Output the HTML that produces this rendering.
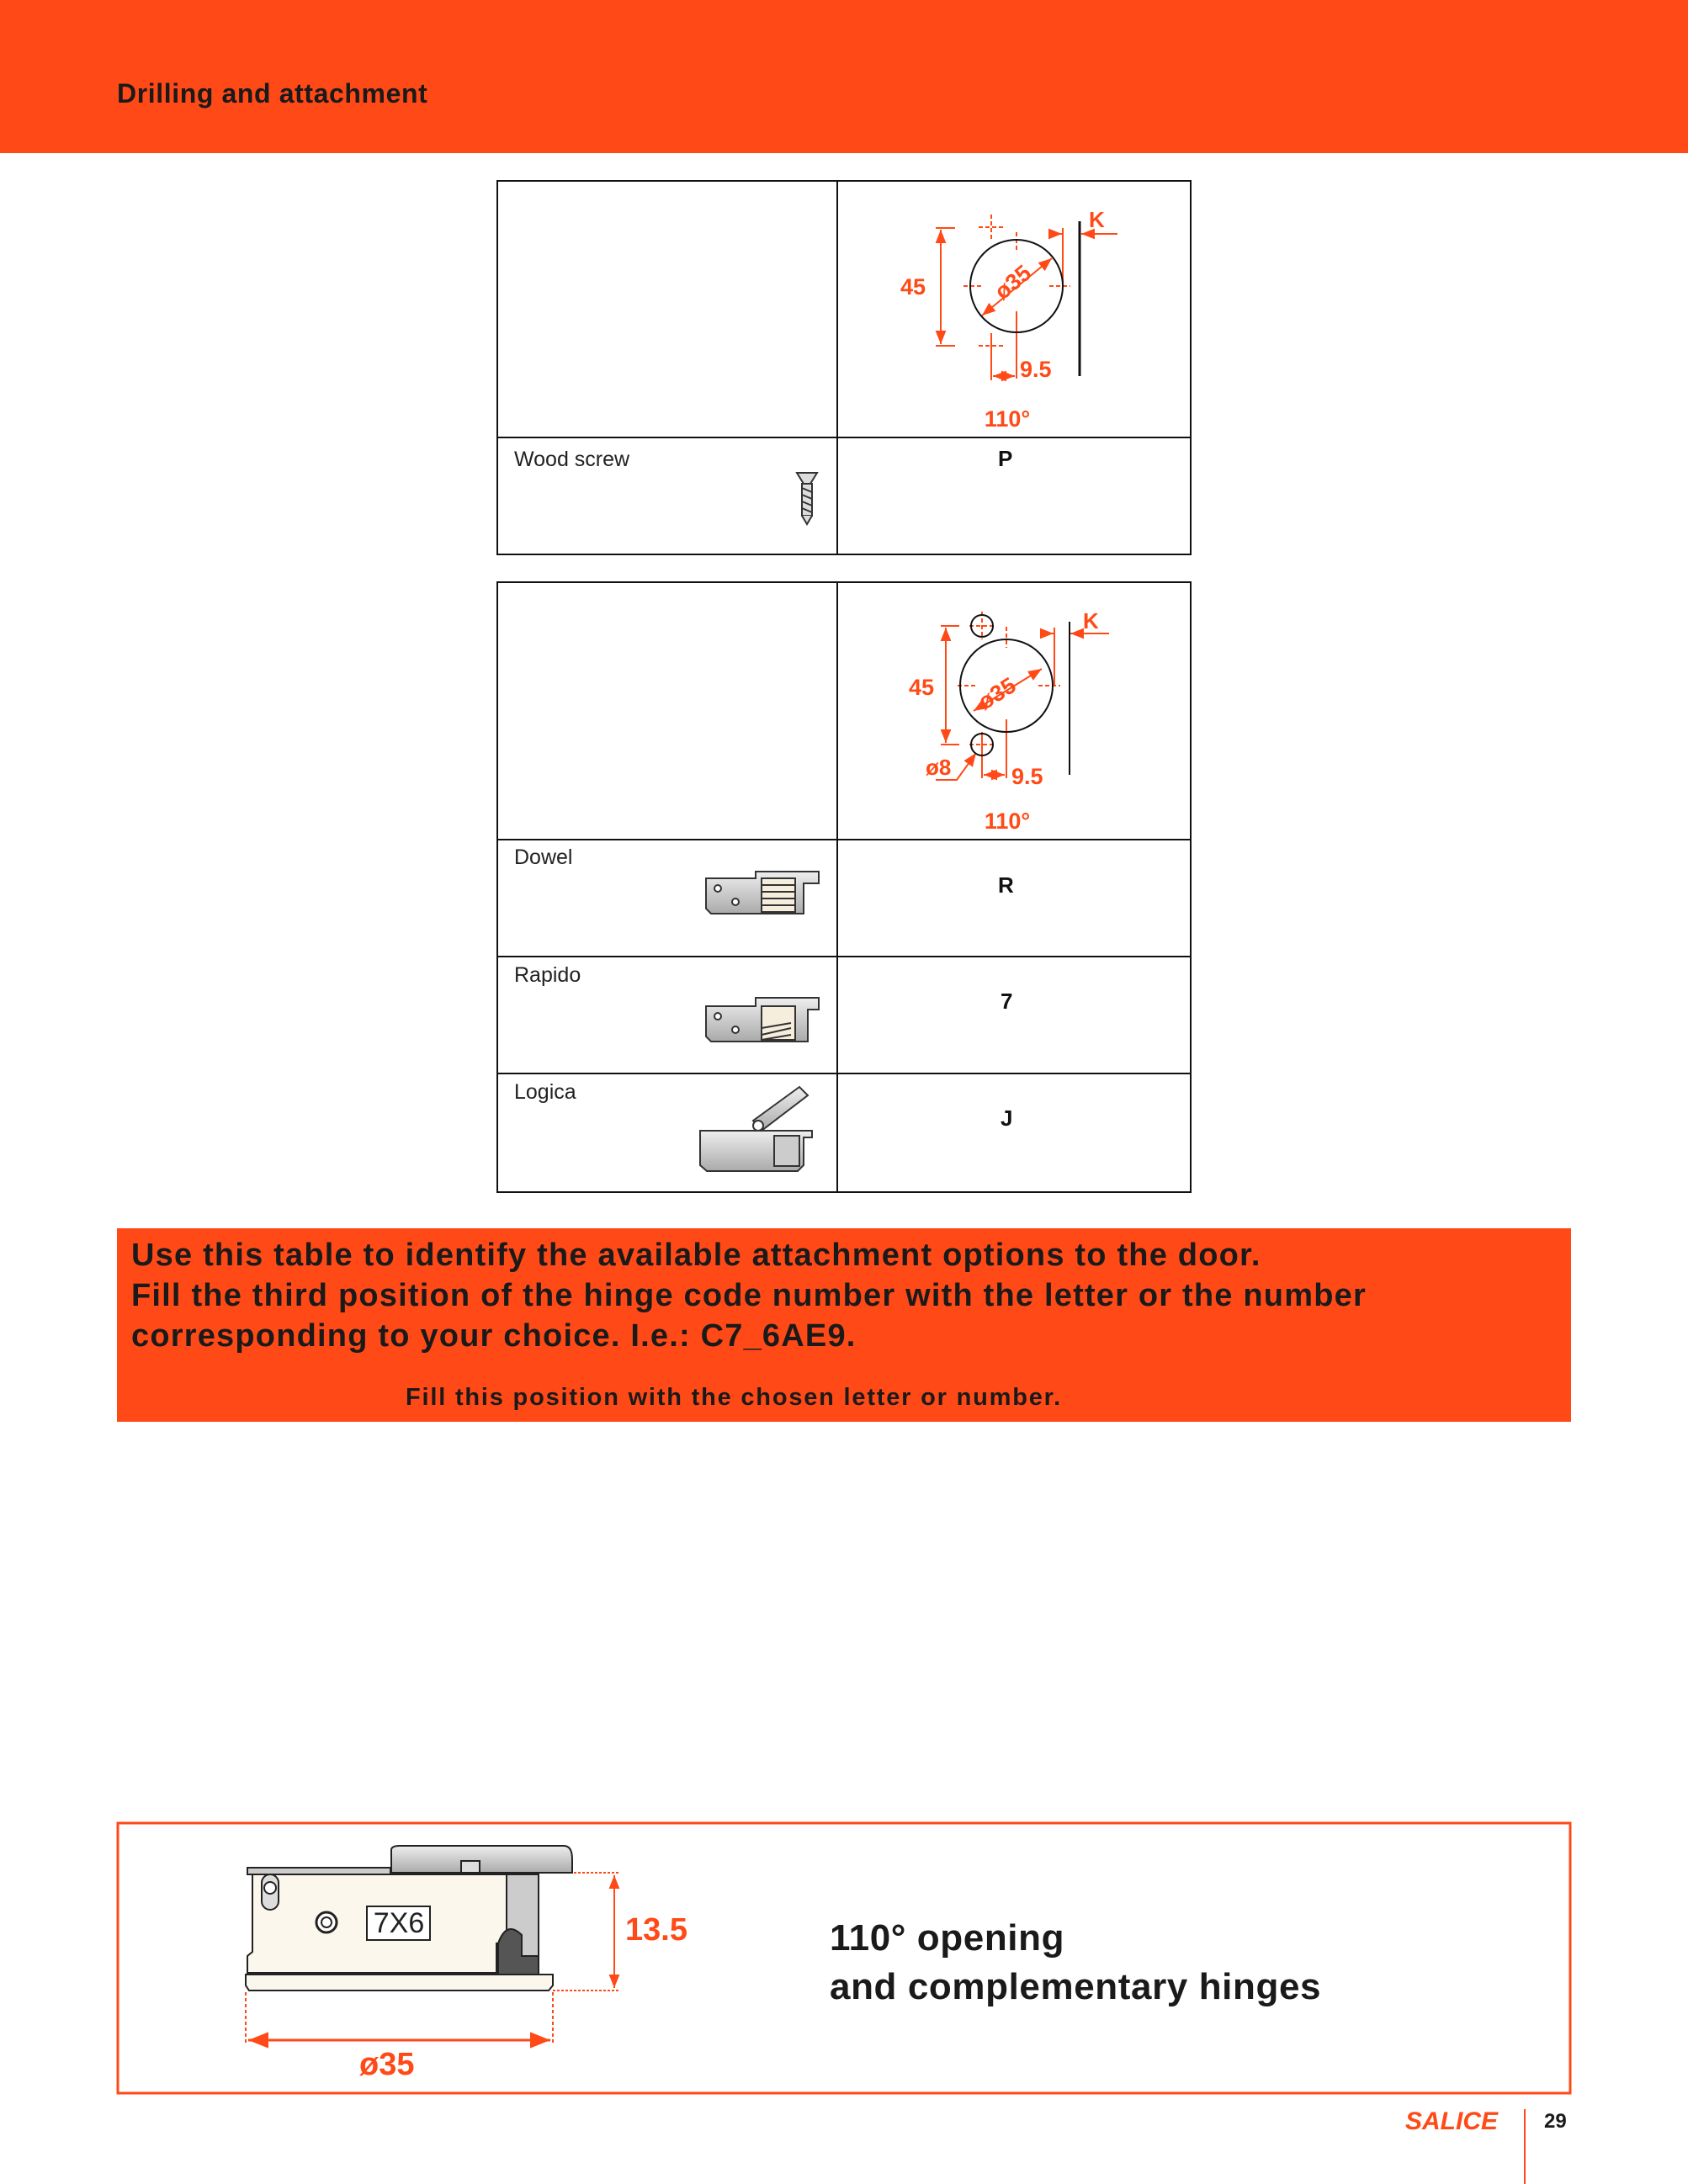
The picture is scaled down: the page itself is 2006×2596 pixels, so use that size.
<!DOCTYPE html>
<html><head><meta charset="utf-8"><style>
body{margin:0;width:2006px;height:2596px;position:relative;background:#fff;font-family:"Liberation Sans",sans-serif;overflow:hidden}
.a{position:absolute}
.t{position:absolute;white-space:nowrap}
</style></head><body>
<div class="a" style="left:0;top:0;width:2006px;height:182px;background:#FF4A17"></div>
<div class="t" style="left:139px;top:93px;font-size:32px;font-weight:bold;color:#1a1a1a;letter-spacing:0.6px">Drilling and attachment</div>

<svg class="a" style="left:0;top:0" width="2006" height="2596" viewBox="0 0 2006 2596">
<defs>
<marker id="ar" viewBox="0 0 10 10" refX="10" refY="5" markerWidth="8" markerHeight="8" orient="auto-start-reverse"><path d="M0,1 L10,5 L0,9 z" fill="#FF4A17"/></marker>
<linearGradient id="gm" x1="0" x2="0" y1="0" y2="1"><stop offset="0" stop-color="#eee"/><stop offset="1" stop-color="#aaa"/></linearGradient>
</defs>
<g fill="none" stroke="#111" stroke-width="2">
<rect x="591" y="215" width="824" height="444"/>
<line x1="995" y1="215" x2="995" y2="659"/>
<line x1="591" y1="520" x2="1415" y2="520"/>
<rect x="591" y="692" width="824" height="725"/>
<line x1="995" y1="692" x2="995" y2="1417"/>
<line x1="591" y1="998" x2="1415" y2="998"/>
<line x1="591" y1="1137" x2="1415" y2="1137"/>
<line x1="591" y1="1276" x2="1415" y2="1276"/>
</g>
<!-- diagram 1 -->
<g stroke="#FF4A17" stroke-width="2" fill="none">
<line x1="1118" y1="273" x2="1118" y2="409" marker-start="url(#ar)" marker-end="url(#ar)"/>
<line x1="1112" y1="271" x2="1135" y2="271"/><line x1="1112" y1="411" x2="1135" y2="411"/>
<line x1="1178" y1="255" x2="1178" y2="285" stroke-dasharray="5,3"/><line x1="1163" y1="270" x2="1193" y2="270" stroke-dasharray="5,3"/>
<line x1="1178" y1="396" x2="1178" y2="452"/><line x1="1163" y1="411" x2="1193" y2="411" stroke-dasharray="5,3"/>
<line x1="1208" y1="276" x2="1208" y2="300" stroke-dasharray="5,3"/><line x1="1208" y1="370" x2="1208" y2="450"/>
<line x1="1145" y1="340" x2="1168" y2="340" stroke-dasharray="5,3"/><line x1="1247" y1="340" x2="1272" y2="340" stroke-dasharray="5,3"/>
<line x1="1167" y1="375" x2="1250" y2="307" marker-start="url(#ar)" marker-end="url(#ar)"/>
<line x1="1180" y1="447" x2="1206" y2="447" marker-start="url(#ar)" marker-end="url(#ar)"/>
<line x1="1263" y1="271" x2="1263" y2="340"/>
<line x1="1252" y1="278" x2="1262" y2="278" marker-end="url(#ar)"/>
<line x1="1328" y1="278" x2="1285" y2="278" marker-end="url(#ar)"/>
</g>
<circle cx="1208" cy="340" r="55" fill="none" stroke="#111" stroke-width="2"/>
<line x1="1283" y1="263" x2="1283" y2="447" stroke="#111" stroke-width="3"/>
<g fill="#FF4A17" font-weight="bold" font-family="Liberation Sans,sans-serif">
<text x="1070" y="350" font-size="27">45</text>
<text x="1178" y="350" font-size="27" transform="rotate(-40 1195 335)">ø35</text>
<text x="1212" y="448" font-size="27">9.5</text>
<text x="1294" y="270" font-size="26">K</text>
<text x="1197" y="507" font-size="27" text-anchor="middle">110°</text>
</g>
<!-- diagram 2 -->
<g stroke="#FF4A17" stroke-width="2" fill="none">
<line x1="1124" y1="746" x2="1124" y2="883" marker-start="url(#ar)" marker-end="url(#ar)"/>
<line x1="1118" y1="744" x2="1140" y2="744"/><line x1="1118" y1="885" x2="1140" y2="885"/>
<line x1="1167" y1="727" x2="1167" y2="760" stroke-dasharray="5,3"/><line x1="1152" y1="744" x2="1182" y2="744" stroke-dasharray="5,3"/>
<line x1="1167" y1="870" x2="1167" y2="925"/><line x1="1152" y1="885" x2="1182" y2="885" stroke-dasharray="5,3"/>
<line x1="1196" y1="745" x2="1196" y2="770" stroke-dasharray="5,3"/><line x1="1196" y1="855" x2="1196" y2="925"/>
<line x1="1138" y1="815" x2="1160" y2="815" stroke-dasharray="5,3"/><line x1="1234" y1="815" x2="1260" y2="815" stroke-dasharray="5,3"/>
<line x1="1157" y1="845" x2="1238" y2="795" marker-start="url(#ar)" marker-end="url(#ar)"/>
<line x1="1169" y1="921" x2="1194" y2="921" marker-start="url(#ar)" marker-end="url(#ar)"/>
<line x1="1253" y1="746" x2="1253" y2="815"/>
<line x1="1243" y1="753" x2="1252" y2="753" marker-end="url(#ar)"/>
<line x1="1318" y1="753" x2="1272" y2="753" marker-end="url(#ar)"/>
<polyline points="1112,927 1137,927 1160,895" marker-end="url(#ar)"/>
</g>
<circle cx="1196" cy="815" r="55" fill="none" stroke="#111" stroke-width="2"/>
<circle cx="1167" cy="744" r="13" fill="none" stroke="#111" stroke-width="2"/>
<circle cx="1167" cy="885" r="13" fill="none" stroke="#111" stroke-width="2"/>
<line x1="1271" y1="739" x2="1271" y2="921" stroke="#111" stroke-width="2"/>
<g fill="#FF4A17" font-weight="bold" font-family="Liberation Sans,sans-serif">
<text x="1080" y="826" font-size="27">45</text>
<text x="1160" y="830" font-size="27" transform="rotate(-32 1190 820)">ø35</text>
<text x="1202" y="932" font-size="27">9.5</text>
<text x="1100" y="921" font-size="26">ø8</text>
<text x="1287" y="747" font-size="26">K</text>
<text x="1197" y="985" font-size="27" text-anchor="middle">110°</text>
</g>
<!-- screw -->
<g stroke="#333" stroke-width="2" fill="#ddd">
<path d="M947,562 L971,562 L963,575 L955,575 z"/>
<rect x="953" y="575" width="12" height="38"/>
<path d="M953,613 L959,623 L965,613"/>
<path d="M953,580 L965,585 M953,588 L965,593 M953,596 L965,601 M953,604 L965,609" fill="none"/>
</g>
<!-- dowel -->
<g stroke="#333" stroke-width="2">
<path d="M839,1044 L898,1044 L898,1036 L973,1036 L973,1050 L955,1050 L955,1086 L845,1086 L839,1080 z" fill="url(#gm)"/>
<rect x="905" y="1044" width="40" height="40" fill="#f6eedc"/>
<circle cx="853" cy="1056" r="4" fill="#fff"/><circle cx="874" cy="1072" r="4" fill="#fff"/>
<path d="M905,1052 H945 M905,1060 H945 M905,1068 H945 M905,1076 H945" fill="none"/>
</g>
<!-- rapido -->
<g stroke="#333" stroke-width="2">
<path d="M839,1196 L898,1196 L898,1186 L973,1186 L973,1200 L960,1200 L960,1238 L845,1238 L839,1232 z" fill="url(#gm)"/>
<rect x="905" y="1196" width="40" height="40" fill="#f6eedc"/>
<circle cx="853" cy="1208" r="4" fill="#fff"/><circle cx="874" cy="1224" r="4" fill="#fff"/>
<path d="M905,1222 L940,1216 M905,1230 L940,1222 M905,1236 L940,1230" fill="none"/>
</g>
<!-- logica -->
<g stroke="#333" stroke-width="2">
<path d="M832,1344 L965,1344 L965,1352 L955,1352 L955,1385 L948,1392 L840,1392 L832,1385 z" fill="url(#gm)"/>
<rect x="920" y="1350" width="30" height="36" fill="#ccc"/>
<path d="M895,1332 L950,1292 L960,1302 L905,1344 z" fill="url(#gm)"/>
<circle cx="901" cy="1338" r="6" fill="#fff"/>
</g>
<!-- bottom box -->
<rect x="140" y="2167" width="1726" height="321" fill="none" stroke="#FF4A17" stroke-width="3"/>
<!-- hinge -->
<g stroke="#222" stroke-width="2">
<path d="M465,2199 Q465,2194 475,2194 L670,2194 Q680,2194 680,2210 L680,2226 L465,2226 z" fill="url(#gm)"/>
<rect x="548" y="2212" width="22" height="14" fill="#ddd"/>
<rect x="294" y="2220" width="170" height="8" fill="#ccc"/>
<path d="M602,2228 L640,2228 L640,2330 L602,2330 z" fill="#ccc"/>
<path d="M300,2228 L602,2228 L602,2310 L590,2310 L590,2345 L294,2345 L294,2325 L300,2320 z" fill="#fbf7ec"/>
<path d="M592,2310 Q602,2282 620,2300 L620,2325 L640,2325 L640,2347 L592,2347 z" fill="#555"/>
<path d="M292,2347 L657,2347 L657,2360 L652,2366 L296,2366 L292,2360 z" fill="#fbf7ec"/>
<rect x="311" y="2228" width="20" height="42" rx="10" fill="#ddd"/>
<circle cx="321" cy="2244" r="7" fill="#fff"/>
<circle cx="388" cy="2285" r="12" fill="#fff" stroke-width="3"/><circle cx="388" cy="2285" r="6" fill="none"/>
<rect x="436" y="2266" width="75" height="40" fill="#fff"/>
</g>
<text x="474" y="2297" font-size="34" text-anchor="middle" font-family="Liberation Sans,sans-serif" fill="#222">7X6</text>
<g stroke="#FF4A17" stroke-width="2" fill="none">
<line x1="682" y1="2226" x2="735" y2="2226" stroke-dasharray="3,2"/>
<line x1="657" y1="2366" x2="735" y2="2366" stroke-dasharray="3,2"/>
<line x1="730" y1="2229" x2="730" y2="2363" marker-start="url(#ar)" marker-end="url(#ar)"/>
<line x1="292" y1="2368" x2="292" y2="2428" stroke-dasharray="4,3"/>
<line x1="657" y1="2368" x2="657" y2="2428" stroke-dasharray="4,3"/>
<line x1="295" y1="2425" x2="654" y2="2425" stroke-width="3" marker-start="url(#ar)" marker-end="url(#ar)"/>
</g>
<line x1="1812" y1="2507" x2="1812" y2="2596" stroke="#FF4A17" stroke-width="2"/>
<!-- arrow under C7_ -->
<line x1="877" y1="1635" x2="877" y2="1612" stroke="#111" stroke-width="2"/>
<path d="M870,1622 L877,1608 L884,1622 z" fill="#111"/>
</svg>

<div class="t" style="left:611px;top:532px;font-size:25px;color:#222">Wood screw</div>
<div class="t" style="left:1186px;top:530px;font-size:26px;font-weight:bold;color:#111">P</div>
<div class="t" style="left:611px;top:1005px;font-size:25px;color:#222">Dowel</div>
<div class="t" style="left:1186px;top:1037px;font-size:26px;font-weight:bold;color:#111">R</div>
<div class="t" style="left:611px;top:1145px;font-size:25px;color:#222">Rapido</div>
<div class="t" style="left:1189px;top:1175px;font-size:26px;font-weight:bold;color:#111">7</div>
<div class="t" style="left:611px;top:1284px;font-size:25px;color:#222">Logica</div>
<div class="t" style="left:1189px;top:1314px;font-size:26px;font-weight:bold;color:#111">J</div>

<div class="a" style="left:139px;top:1460px;width:1728px;height:230px;background:#FF4A17"></div>
<div class="t" style="left:156px;top:1468px;font-size:38px;font-weight:bold;color:#1a1a1a;line-height:48px;letter-spacing:1.2px">Use this table to identify the available attachment options to the door.<br>Fill the third position of the hinge code number with the letter or the number<br>corresponding to your choice. I.e.: C7_6AE9.</div>
<div class="t" style="left:482px;top:1645px;font-size:29px;font-weight:bold;color:#1a1a1a;letter-spacing:1.8px">Fill this position with the chosen letter or number.</div>

<div class="t" style="left:743px;top:2273px;font-size:38px;font-weight:bold;color:#FF4A17">13.5</div>
<div class="t" style="left:427px;top:2433px;font-size:38px;font-weight:bold;color:#FF4A17">ø35</div>
<div class="t" style="left:986px;top:2275px;font-size:44px;font-weight:bold;color:#1a1a1a;line-height:58px;letter-spacing:0.6px">110° opening<br>and complementary hinges</div>
<div class="t" style="left:1670px;top:2505px;font-size:30px;font-weight:bold;font-style:italic;color:#FF4A17">SALICE</div>
<div class="t" style="left:1835px;top:2508px;font-size:24px;font-weight:bold;color:#1a1a1a">29</div>
</body></html>
